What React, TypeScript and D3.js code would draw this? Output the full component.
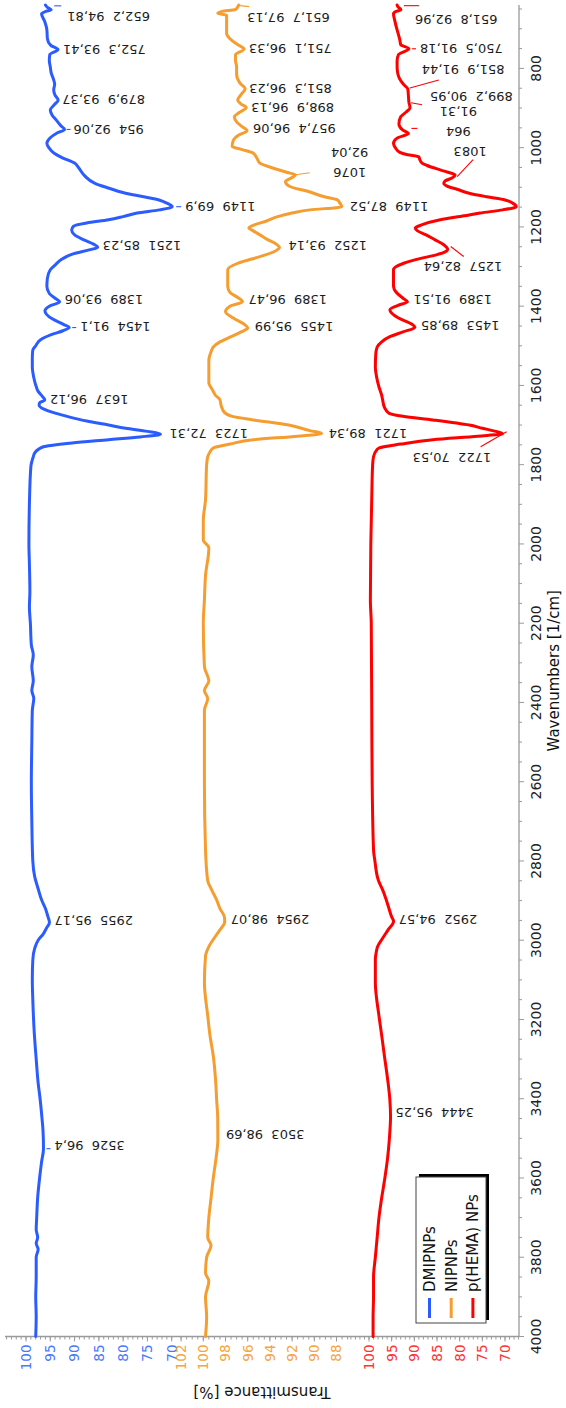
import { useEffect, useRef } from "react";
import * as d3 from "d3";

const WIDTH = 566;
const HEIGHT = 1408;

// ---- data -------------------------------------------------------------
const seriesNames = ["DMIPNPs", "NIPNPs", "p(HEMA) NPs"];

// spectra: [wavenumber (1/cm), transmittance (%)]
const dmipSpectrum: [number, number][] = [
  [4000, 98.0], [3950, 97.9], [3900, 98.0], [3850, 97.9], [3800, 97.9], [3780, 97.5], [3765, 97.9],
  [3750, 97.6], [3730, 97.9], [3700, 97.8], [3650, 97.6], [3600, 97.2], [3560, 96.8], [3526, 96.4],
  [3480, 96.5], [3450, 96.7], [3400, 97.1], [3360, 97.5], [3300, 97.9], [3233, 98.3], [3150, 98.6],
  [3100, 98.7], [3050, 98.6], [3020, 98.2], [3000, 97.5], [2985, 96.5], [2970, 95.8], [2955, 95.17],
  [2940, 95.5], [2920, 96.0], [2898, 96.8], [2870, 97.5], [2840, 98.2], [2800, 98.6], [2700, 98.8],
  [2600, 98.9], [2500, 98.8], [2420, 98.7], [2390, 98.4], [2370, 98.8], [2345, 98.5], [2310, 98.8],
  [2280, 98.5], [2255, 98.9], [2200, 99.1], [2160, 99.3], [2120, 99.2], [2050, 99.3], [2000, 99.4],
  [1900, 99.3], [1805, 99.0], [1780, 98.5], [1770, 98.2], [1760, 97.3], [1754, 96.2], [1745, 90.5],
  [1737, 83], [1730, 76.5], [1723, 72.31], [1716, 75], [1708, 79.5], [1700, 83], [1690, 87.5],
  [1680, 91], [1670, 94], [1660, 96.3], [1650, 97.3], [1644, 97.2], [1637, 96.12], [1628, 96.6],
  [1615, 97.5], [1603, 97.9], [1580, 98.4], [1553, 98.7], [1530, 98.7], [1511, 98.6], [1500, 98.0],
  [1485, 97.0], [1472, 94.8], [1462, 92.4], [1454, 91.1], [1446, 92.3], [1432, 94.6], [1412, 96.1],
  [1400, 95.2], [1389, 93.06], [1380, 94.0], [1368, 95.2], [1350, 95.7], [1330, 95.6], [1308, 95.0],
  [1295, 93.9], [1283, 92.8], [1268, 90.3], [1258, 87.0], [1251, 85.23], [1244, 86.0], [1232, 88.2],
  [1220, 90.0], [1208, 90.6], [1198, 90.2], [1190, 87.5], [1182, 83.0], [1174, 80.0], [1165, 77.1],
  [1157, 72.5], [1149, 69.9], [1140, 71.0], [1132, 72.6], [1115, 79.5], [1100, 83.5], [1090, 85.8],
  [1070, 88.0], [1050, 89.2], [1039, 90.0], [1025, 92.6], [1014, 94.2], [1000, 95.3], [989, 95.7],
  [975, 95.0], [963, 93.6], [954, 92.06], [945, 92.8], [930, 93.8], [918, 94.6], [905, 95.0],
  [892, 94.2], [879.9, 93.37], [868, 94.0], [854, 94.3], [840, 94.1], [829, 94.3], [812, 94.8],
  [796, 95.0], [780, 95.2], [765, 95.1], [752.3, 93.41], [742, 94.9], [725, 95.6], [703, 95.7],
  [680, 96.2], [662, 96.8], [656, 95.9], [652.2, 94.81], [646, 95.6], [640, 96.0],
];

const nipSpectrum: [number, number][] = [
  [4000, 99.8], [3950, 99.7], [3900, 99.8], [3860, 99.5], [3840, 99.8], [3800, 99.7], [3770, 99.3],
  [3750, 99.6], [3700, 99.5], [3650, 99.3], [3600, 99.1], [3550, 98.85], [3503, 98.69], [3450, 98.7],
  [3402, 98.8], [3350, 98.9], [3292, 99.1], [3240, 99.4], [3191, 99.6], [3107, 99.9], [3040, 99.8],
  [3016, 99.5], [2990, 98.9], [2974, 98.5], [2954, 98.07], [2941, 98.1], [2920, 98.5], [2898, 98.8],
  [2870, 99.3], [2850, 99.6], [2772, 99.8], [2600, 99.9], [2420, 99.9], [2390, 99.6], [2370, 99.9],
  [2345, 99.5], [2310, 99.9], [2200, 100.0], [2141, 99.9], [2080, 99.8], [2010, 99.5], [1990, 100.0],
  [1940, 100.0], [1889, 99.8], [1800, 99.7], [1780, 99.6], [1768, 99.4], [1758, 99.1], [1748, 97.6],
  [1737, 95.5], [1728, 91.5], [1721, 89.34], [1714, 90.4], [1700, 92.3], [1687, 95.5], [1678, 97.4],
  [1668, 98.1], [1650, 98.4], [1636, 98.5], [1625, 98.9], [1610, 99.2], [1594, 99.5], [1560, 99.5],
  [1536, 99.5], [1515, 99.3], [1503, 99.1], [1490, 98.5], [1477, 97.5], [1465, 96.6], [1455, 95.99],
  [1446, 96.3], [1430, 97.3], [1414, 98.0], [1400, 97.6], [1389, 96.47], [1378, 96.9], [1365, 97.6],
  [1350, 97.8], [1308, 97.8], [1291, 96.8], [1275, 94.9], [1262, 93.6], [1252, 93.14], [1244, 93.4],
  [1232, 94.2], [1220, 94.9], [1210, 95.5], [1203, 95.9], [1195, 95.4], [1185, 94.3], [1174, 93.3],
  [1165, 92.0], [1157, 90.4], [1149, 87.52], [1140, 87.7], [1132, 87.9], [1124, 89.1], [1110, 90.6],
  [1098, 92.2], [1086, 92.6], [1076, 92.04], [1069, 91.7], [1062, 92.5], [1050, 93.9], [1039, 94.9],
  [1025, 95.2], [1014, 95.5], [1005, 96.5], [997, 97.4], [982, 97.3], [968, 96.8], [957.4, 96.06],
  [947, 96.5], [935, 97.0], [922, 97.2], [912, 96.8], [898.9, 96.13], [890, 96.6], [880, 96.9],
  [866, 96.6], [851.3, 96.23], [837, 96.7], [815, 97.0], [796, 97.0], [780, 97.1], [766, 97.1],
  [751.1, 96.33], [740, 96.9], [725, 97.6], [711, 97.9], [690, 97.9], [666, 97.9], [661, 98.7],
  [656, 98.3], [651.7, 97.13], [645, 96.9], [640, 96.8],
];

const hemaSpectrum: [number, number][] = [
  [4000, 99.1], [3950, 99.1], [3900, 99.0], [3850, 99.0], [3800, 98.6], [3750, 98.2], [3700, 97.8],
  [3650, 97.2], [3600, 96.5], [3550, 95.9], [3500, 95.5], [3444, 95.25], [3402, 95.4], [3350, 95.9],
  [3292, 96.6], [3240, 97.2], [3191, 97.8], [3107, 98.6], [3049, 98.6], [3030, 98.4], [3016, 98.1],
  [2995, 97.0], [2974, 95.8], [2952, 94.57], [2941, 95.0], [2920, 95.6], [2898, 96.2], [2870, 97.1],
  [2850, 97.9], [2800, 98.7], [2772, 99.0], [2600, 99.3], [2400, 99.4], [2200, 99.5], [2141, 99.7],
  [2000, 99.6], [1889, 99.4], [1800, 99.2], [1780, 99.0], [1768, 98.6], [1758, 97.8], [1748, 93.0],
  [1737, 85.9], [1728, 76.0], [1722, 70.53], [1716, 72.0], [1708, 75.0], [1700, 77.9], [1687, 85.9],
  [1678, 92.5], [1670, 95.6], [1655, 96.6], [1636, 97.0], [1625, 97.2], [1604, 97.8], [1580, 98.3],
  [1553, 98.6], [1520, 98.5], [1503, 98.2], [1490, 97.2], [1477, 95.4], [1465, 92.5], [1453, 89.85],
  [1445, 90.6], [1430, 93.5], [1409, 95.4], [1398, 93.6], [1389, 91.51], [1380, 92.5], [1365, 94.0],
  [1350, 94.6], [1308, 94.6], [1291, 92.2], [1280, 88.8], [1270, 85.0], [1263, 83.2], [1257, 82.64],
  [1245, 83.5], [1232, 85.5], [1220, 87.4], [1210, 89.3], [1203, 89.8], [1195, 88.4], [1182, 84.3],
  [1172, 79.0], [1165, 75.5], [1157, 70.5], [1149, 67.5], [1140, 68.3], [1132, 70.0], [1124, 74.0],
  [1115, 77.9], [1105, 80.6], [1098, 82.6], [1090, 83.5], [1084, 83.2], [1076, 81.6], [1069, 81.0],
  [1062, 82.6], [1056, 84.3], [1045, 87.2], [1039, 88.3], [1030, 88.8], [1023, 89.0], [1018, 91.5],
  [1012, 93.2], [1000, 94.2], [989, 94.6], [976, 93.8], [964, 91.31], [955, 92.6], [940, 93.4],
  [922, 93.0], [910, 91.8], [899.2, 90.95], [885, 91.2], [870, 91.3], [851.9, 91.44], [840, 92.4],
  [825, 93.3], [810, 93.7], [796, 93.8], [780, 93.8], [765, 93.5], [750.5, 91.18], [740, 93.0],
  [728, 93.2], [715, 93.5], [703, 93.8], [680, 94.3], [662, 94.6], [656, 94.0], [651.8, 92.96],
  [645, 93.6], [640, 93.8],
];

// picked band positions: [wavenumber, transmittance]
const dmipPeaks: [number, number][] = [
  [652.2, 94.81], [752.3, 93.41], [879.9, 93.37], [954, 92.06], [1149, 69.9], [1251, 85.23],
  [1389, 93.06], [1454, 91.1], [1637, 96.12], [1723, 72.31], [2955, 95.17], [3526, 96.4],
];
const nipPeaks: [number, number][] = [
  [651.7, 97.13], [751.1, 96.33], [851.3, 96.23], [898.9, 96.13], [957.4, 96.06], [1076, 92.04],
  [1149, 87.52], [1252, 93.14], [1389, 96.47], [1455, 95.99], [1721, 89.34], [2954, 98.07], [3503, 98.69],
];
const hemaPeaks: [number, number][] = [
  [651.8, 92.96], [750.5, 91.18], [851.9, 91.44], [899.2, 90.95], [964, 91.31], [1083, 81.0],
  [1257, 82.64], [1389, 91.51], [1453, 89.85], [1722, 70.53], [2952, 94.57], [3444, 95.25],
];

// axis ticks
const wavenumberTicks = [800, 1000, 1200, 1400, 1600, 1800, 2000, 2200, 2400, 2600, 2800, 3000, 3200, 3400, 3600, 3800, 4000];
const dmipTicks = [70, 75, 80, 85, 90, 95, 100];
const nipTicks = [88, 90, 92, 94, 96, 98, 100, 102];
const hemaTicks = [70, 75, 80, 85, 90, 95, 100];

// ---- appearance -------------------------------------------------------
const lineColors = ["#2b5cff", "#f59d2f", "#ff0000"];
const tickTextColors = ["#4a78ff", "#f5a540", "#ff3434"];
const FONT = "DejaVu Sans, Verdana, sans-serif";

// label placement, measured in px in the page frame:
// gap   – distance from the band along the transmittance direction
// shift – displacement along the wavenumber direction (towards higher wavenumbers)
// leader – [a1, b1, a2, b2] connector in the same two directions
// mode  – "one" (wn  value), "two" (wn over value), "wn" (wavenumber only)
type LabelLayout = { gap: number; shift?: number; leader?: number[]; anchor?: string; mode?: string };

const dmipLabelLayout: LabelLayout[] = [
  { gap: 16, shift: 7, leader: [3, -4, 10, -4] },
  { gap: 5 },
  { gap: 4 },
  { gap: 9, leader: [2, 0, 6, 0] },
  { gap: 13, leader: [4, 0, 9, 0] },
  { gap: 5, shift: -1 },
  { gap: 5, shift: -2 },
  { gap: 11, shift: -1, leader: [3, 0, 7, 0] },
  { gap: 5 },
  { gap: 9 },
  { gap: 5, shift: -2 },
  { gap: 11, shift: -3, leader: [3, 0, 7, 0] },
];
const nipLabelLayout: LabelLayout[] = [
  { gap: 12, shift: 8, leader: [5, -4, 14, -3] },
  { gap: 5 },
  { gap: 4 },
  { gap: 5 },
  { gap: 6, shift: -2 },
  { gap: 58, shift: -5, anchor: "middle", mode: "two", leader: [4, -3, 18, -5] },
  { gap: 8 },
  { gap: 9, shift: -2 },
  { gap: 6, shift: -2 },
  { gap: 7, shift: -1 },
  { gap: 7 },
  { gap: 6, shift: -2 },
  { gap: 8, shift: -5 },
];
const hemaLabelLayout: LabelLayout[] = [
  { gap: 14, shift: 10, leader: [3, -4, 18, -4] },
  { gap: 11, leader: [3, 0, 7, 0] },
  { gap: 14, shift: -19, leader: [2, -1, 31, -9] },
  { gap: 20, shift: -11, leader: [1, -5, 12, -3] },
  { gap: 50, shift: -2, anchor: "middle", mode: "two", leader: [3, -5, 9, -5] },
  { gap: 15, shift: -29, anchor: "middle", mode: "wn", leader: [2, -4, 18, -21] },
  { gap: -24, shift: 17, leader: [3, -3, 16, 7] },
  { gap: 6, shift: -2 },
  { gap: 6, shift: -1 },
  { gap: -90, shift: 24, leader: [4, -2, -22, 13] },
  { gap: 5, shift: -2 },
  { gap: 5, shift: -3 },
];

const fmt = (n: number) => String(n).replace(".", ",");

export default function App() {
  const ref = useRef<SVGSVGElement>(null);

  useEffect(() => {
    const svg = d3.select(ref.current);
    svg.selectAll("*").remove();
    svg.append("rect").attr("width", WIDTH).attr("height", HEIGHT).attr("fill", "#ffffff");

    // The chart is laid out landscape (wavenumber running left → right)
    // and turned a quarter counter-clockwise onto the page.
    const g = svg.append("g").attr("transform", `translate(0,${HEIGHT}) rotate(-90)`);

    const plot = { left: 71.5, right: 1403, top: 5, bottom: 519 };
    const x = d3.scaleLinear().domain([4000, 640]).range([plot.left, plot.right]);

    const yScales = [
      d3.scaleLinear().domain([100, 70]).range([26, 171.7]),
      d3.scaleLinear().domain([100, 88]).range([203.3, 336.5]),
      d3.scaleLinear().domain([100, 70]).range([369, 505]),
    ];
    const bands: [number, number][] = [[5, 176], [176, 348], [348, 519]];
    const minorSteps = [1, 0.5, 1];
    const majorTicks = [dmipTicks, nipTicks, hemaTicks];
    const spectra = [dmipSpectrum, nipSpectrum, hemaSpectrum];
    const peaks = [dmipPeaks, nipPeaks, hemaPeaks];
    const layouts = [dmipLabelLayout, nipLabelLayout, hemaLabelLayout];

    const axisColor = "#9a9a9a";

    // ---- transmittance axis (three stacked scales) ----
    g.append("line")
      .attr("x1", plot.left).attr("x2", plot.left)
      .attr("y1", plot.top).attr("y2", plot.bottom)
      .attr("stroke", axisColor).attr("stroke-width", 1.3);

    yScales.forEach((ys, i) => {
      const [b0, b1] = bands[i];
      const vHi = ys.invert(b0);
      const vLo = ys.invert(b1);
      const step = minorSteps[i];
      const minor = d3.range(Math.ceil(vLo / step) * step, vHi + 1e-9, step);
      g.append("g").selectAll("line").data(minor).join("line")
        .attr("x1", plot.left).attr("x2", plot.left - 3)
        .attr("y1", (d) => ys(d)).attr("y2", (d) => ys(d))
        .attr("stroke", axisColor).attr("stroke-width", 1);
      g.append("g").selectAll("line").data(majorTicks[i]).join("line")
        .attr("x1", plot.left).attr("x2", plot.left - 5)
        .attr("y1", (d) => ys(d)).attr("y2", (d) => ys(d))
        .attr("stroke", axisColor).attr("stroke-width", 1);
      g.append("g").selectAll("text").data(majorTicks[i]).join("text")
        .attr("x", plot.left - 8)
        .attr("y", (d) => ys(d))
        .attr("dy", "0.36em")
        .attr("text-anchor", "end")
        .attr("font-family", FONT)
        .attr("font-size", 13.5)
        .attr("fill", tickTextColors[i])
        .text((d) => String(d));
    });

    g.append("text")
      .attr("transform", `translate(16,${(plot.top + plot.bottom) / 2}) rotate(-90)`)
      .attr("text-anchor", "middle")
      .attr("dy", "0.36em")
      .attr("font-family", FONT)
      .attr("font-size", 15)
      .attr("fill", "#111")
      .text("Transmittance [%]");

    // ---- wavenumber axis ----
    g.append("line")
      .attr("x1", plot.left).attr("x2", plot.right)
      .attr("y1", plot.bottom).attr("y2", plot.bottom)
      .attr("stroke", axisColor).attr("stroke-width", 1.3);
    const wnMinor = d3.range(650, 4001, 50);
    g.append("g").selectAll("line").data(wnMinor).join("line")
      .attr("x1", (d) => x(d)).attr("x2", (d) => x(d))
      .attr("y1", plot.bottom).attr("y2", (d) => plot.bottom + (d % 200 === 0 ? 5 : 3))
      .attr("stroke", axisColor).attr("stroke-width", 1);
    g.append("g").selectAll("text").data(wavenumberTicks).join("text")
      .attr("x", (d) => x(d))
      .attr("y", plot.bottom + 12)
      .attr("dy", "0.71em")
      .attr("text-anchor", "middle")
      .attr("font-family", FONT)
      .attr("font-size", 14)
      .attr("fill", "#222")
      .text((d) => String(d));
    g.append("text")
      .attr("x", (plot.left + plot.right) / 2)
      .attr("y", 554)
      .attr("dy", "0.36em")
      .attr("text-anchor", "middle")
      .attr("font-family", FONT)
      .attr("font-size", 15)
      .attr("fill", "#111")
      .text("Wavenumbers [1/cm]");

    // ---- spectra ----
    spectra.forEach((data, i) => {
      const line = d3.line<[number, number]>()
        .x((d) => x(d[0]))
        .y((d) => yScales[i](d[1]))
        .curve(d3.curveMonotoneX);
      g.append("path")
        .datum(data)
        .attr("d", line)
        .attr("fill", "none")
        .attr("stroke", lineColors[i])
        .attr("stroke-width", 3)
        .attr("stroke-linejoin", "round")
        .attr("stroke-linecap", "round");
    });

    // ---- band labels ----
    peaks.forEach((list, i) => {
      const ys = yScales[i];
      list.forEach(([wn, v], k) => {
        const lay = layouts[i][k];
        const X0 = x(wn);
        const Y0 = ys(v);
        if (lay.leader) {
          const [a1, b1, a2, b2] = lay.leader;
          g.append("line")
            .attr("x1", X0 - b1).attr("y1", Y0 + a1)
            .attr("x2", X0 - b2).attr("y2", Y0 + a2)
            .attr("stroke", lineColors[i]).attr("stroke-width", 1.1);
        }
        const t = g.append("text")
          .attr("transform", `translate(${X0 - (lay.shift || 0)},${Y0 + lay.gap}) rotate(-90)`)
          .attr("text-anchor", lay.anchor || "end")
          .attr("font-family", FONT)
          .attr("font-size", 13)
          .attr("fill", "#1c1c1c");
        const mode = lay.mode || "one";
        if (mode === "one") {
          t.append("tspan").attr("x", 0).attr("dy", "0.36em")
            .text(`${fmt(wn)}\u00a0\u00a0${fmt(v)}`);
        } else if (mode === "two") {
          t.append("tspan").attr("x", 0).attr("dy", "0.36em").text(fmt(wn));
          t.append("tspan").attr("x", 0).attr("dy", 20).text(fmt(v));
        } else {
          t.append("tspan").attr("x", 0).attr("dy", "0.36em").text(fmt(wn));
        }
      });
    });

    // ---- legend ----
    const lg = { x: 85, y: 416, w: 146, h: 70 };
    g.append("rect")
      .attr("x", lg.x + 3).attr("y", lg.y + 3)
      .attr("width", lg.w).attr("height", lg.h)
      .attr("fill", "#000");
    g.append("rect")
      .attr("x", lg.x).attr("y", lg.y)
      .attr("width", lg.w).attr("height", lg.h)
      .attr("fill", "#fff").attr("stroke", "#444").attr("stroke-width", 1);
    seriesNames.forEach((name, i) => {
      const cy = lg.y + 13.5 + i * 21.7;
      g.append("line")
        .attr("x1", lg.x + 5).attr("x2", lg.x + 25)
        .attr("y1", cy).attr("y2", cy)
        .attr("stroke", lineColors[i]).attr("stroke-width", 3);
      g.append("text")
        .attr("x", lg.x + 31).attr("y", cy)
        .attr("dy", "0.36em")
        .attr("font-family", FONT)
        .attr("font-size", 15)
        .attr("fill", "#111")
        .text(name);
    });
  }, []);

  return (
    <svg
      ref={ref}
      width={WIDTH}
      height={HEIGHT}
      style={{ position: "absolute", left: 0, top: 0, display: "block" }}
    />
  );
}
